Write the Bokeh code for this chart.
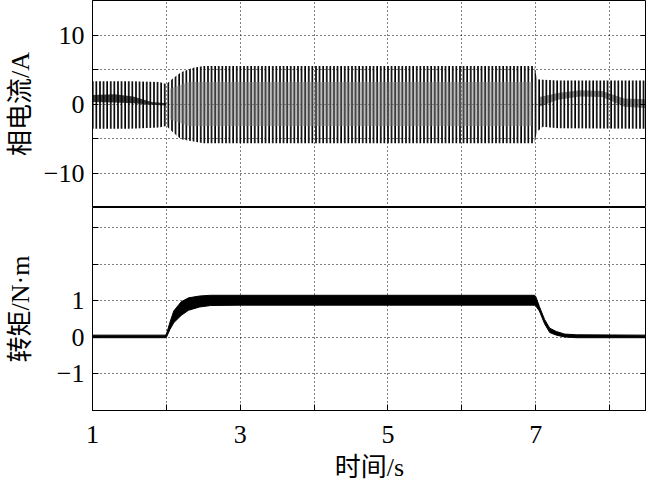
from bokeh.plotting import figure
from bokeh.layouts import column
from bokeh.models import FixedTicker, ColumnDataSource, LinearAxis
from bokeh.embed import file_html
from bokeh.resources import INLINE

# ---- data ----
x_grid = [1, 2, 3, 4, 5, 6, 7, 8]
x_label_ticks = [1, 3, 5, 7]
x_plain_ticks = [2, 4, 6, 8]

cur_grid = [-10, -5, 0, 5, 10]
cur_label_ticks = [-10, 0, 10]
cur_plain_ticks = [-5, 5]
cur_tick_labels = {-10: "\u221210", 0: "0", 10: "10"}

tq_grid = [-1, 0, 1, 2, 3]
tq_label_ticks = [-1, 0, 1]
tq_plain_ticks = [2, 3]
tq_tick_labels = {-1: "\u22121", 0: "0", 1: "1"}

# phase current envelope (A)
t_cur = [1.0, 1.5, 1.9, 2.0, 2.1, 2.2, 2.35, 2.5, 6.98, 7.02, 7.1, 7.3, 8.5]
cur_upper = [3.3, 3.3, 3.2, 2.9, 3.8, 4.6, 5.2, 5.5, 5.5, 3.6, 3.5, 3.4, 3.4]
cur_lower = [-3.6, -3.6, -3.4, -3.2, -4.2, -5.1, -5.4, -5.7, -5.7, -4.0, -3.3, -3.5, -3.6]

# dense core of the current trace
t_core1 = [1.0, 1.3, 1.55, 1.8, 2.0]
core1_upper = [1.3, 1.4, 1.1, 0.3, 0.1]
core1_lower = [0.3, 0.2, 0.1, -0.1, -0.2]

t_core2 = [2.05, 2.3, 6.95]
core2_upper = [2.2, 3.2, 3.2]
core2_lower = [-2.2, -3.2, -3.2]

t_core3 = [7.05, 7.3, 7.6, 7.9, 8.2, 8.5]
core3_upper = [1.0, 1.6, 2.0, 1.9, 0.8, 0.7]
core3_lower = [-0.4, 0.6, 1.1, 1.0, -0.4, -0.6]

# torque band (N·m)
t_tq = [1.0, 1.98, 2.0, 2.05, 2.1, 2.2, 2.3, 2.45, 2.6, 3.0, 6.98, 7.0,
        7.05, 7.12, 7.19, 7.28, 7.39, 7.55, 8.5]
tq_upper = [0.06, 0.06, 0.08, 0.42, 0.72, 0.97, 1.08, 1.13, 1.15, 1.15, 1.15, 1.12,
            0.84, 0.49, 0.25, 0.16, 0.09, 0.07, 0.06]
tq_lower = [-0.01, -0.01, 0.0, 0.22, 0.4, 0.6, 0.74, 0.83, 0.87, 0.88, 0.88, 0.86,
            0.72, 0.37, 0.13, 0.06, 0.01, -0.01, -0.01]

SERIF = "Liberation Serif"
LABEL_FONT = "Liberation Serif, Noto Sans CJK SC"


def inward_axis(ax):
    ax.major_tick_in = 6
    ax.major_tick_out = 0
    ax.minor_tick_in = 6
    ax.minor_tick_out = 0
    ax.axis_line_color = "black"
    ax.major_tick_line_color = "black"
    ax.minor_tick_line_color = "black"


def style(p, grid, label_ticks, plain_ticks, labels):
    p.outline_line_color = "black"
    p.outline_line_width = 1
    p.xgrid.ticker = FixedTicker(ticks=x_grid)
    p.ygrid.ticker = FixedTicker(ticks=grid)
    for g in (p.xgrid, p.ygrid):
        g.grid_line_color = "black"
        g.grid_line_dash = "1 3"
        g.grid_line_width = 1
        g.grid_line_alpha = 1.0
    ax = p.yaxis[0]
    ax.ticker = FixedTicker(ticks=label_ticks, minor_ticks=plain_ticks)
    ax.major_label_overrides = labels
    ax.major_label_text_font = SERIF
    ax.major_label_text_font_size = "26px"
    ax.major_label_text_color = "black"
    inward_axis(ax)
    ax.major_label_standoff = 8
    ax.axis_label_text_font = LABEL_FONT
    ax.axis_label_text_font_size = "26px"
    ax.axis_label_text_font_style = "normal"
    ax.axis_label_text_color = "black"
    rax = LinearAxis(ticker=FixedTicker(ticks=[], minor_ticks=grid), major_label_standoff=0)
    inward_axis(rax)
    p.add_layout(rax, "right")
    p.background_fill_color = "white"
    p.border_fill_color = "white"


p1 = figure(width=646, height=207, x_range=(1, 8.5), y_range=(-15, 15),
            output_backend="svg", toolbar_location=None, x_axis_location=None,
            min_border_left=92, min_border_right=0, min_border_top=0, min_border_bottom=0)
style(p1, cur_grid, cur_label_ticks, cur_plain_ticks, cur_tick_labels)
p1.yaxis[0].axis_label = "相电流/A"
p1.yaxis[0].axis_label_standoff = 6

src_cur = ColumnDataSource(dict(t=t_cur, lo=cur_lower, hi=cur_upper))
p1.varea(x="t", y1="lo", y2="hi", source=src_cur, fill_color="white", fill_alpha=0.0,
         hatch_pattern="vertical_line", hatch_color="black", hatch_scale=3.6,
         hatch_weight=1.7)
p1.varea(x=t_core2, y1=core2_lower, y2=core2_upper, fill_color="#7a7a7a", fill_alpha=0.5)
p1.varea(x=t_core1, y1=core1_lower, y2=core1_upper, fill_color="black", fill_alpha=0.75)
p1.varea(x=t_core3, y1=core3_lower, y2=core3_upper, fill_color="black", fill_alpha=0.45)

p2 = figure(width=646, height=277, x_range=p1.x_range, y_range=(-2, 3.55),
            output_backend="svg", toolbar_location=None,
            min_border_left=92, min_border_right=0, min_border_top=0, min_border_bottom=72)
style(p2, tq_grid, tq_label_ticks, tq_plain_ticks, tq_tick_labels)
p2.yaxis[0].axis_label = "转矩/N·m"
p2.yaxis[0].axis_label_standoff = 19
xa = p2.xaxis[0]
xa.ticker = FixedTicker(ticks=x_label_ticks, minor_ticks=x_plain_ticks)
xa.major_label_text_font = SERIF
xa.major_label_text_font_size = "26px"
xa.major_label_text_color = "black"
inward_axis(xa)
xa.major_label_standoff = 15
xa.axis_label = "时间/s"
xa.axis_label_text_font = LABEL_FONT
xa.axis_label_text_font_size = "26px"
xa.axis_label_text_font_style = "normal"
xa.axis_label_text_color = "black"
xa.axis_label_standoff = 7

src_tq = ColumnDataSource(dict(t=t_tq, lo=tq_lower, hi=tq_upper))
p2.varea(x="t", y1="lo", y2="hi", source=src_tq, fill_color="black")
p2.line(x="t", y="hi", source=src_tq, line_color="black", line_width=1)
p2.line(x="t", y="lo", source=src_tq, line_color="black", line_width=1)

layout = column(p1, p2, spacing=0)
open("out.html", "w").write(file_html(layout, INLINE))
